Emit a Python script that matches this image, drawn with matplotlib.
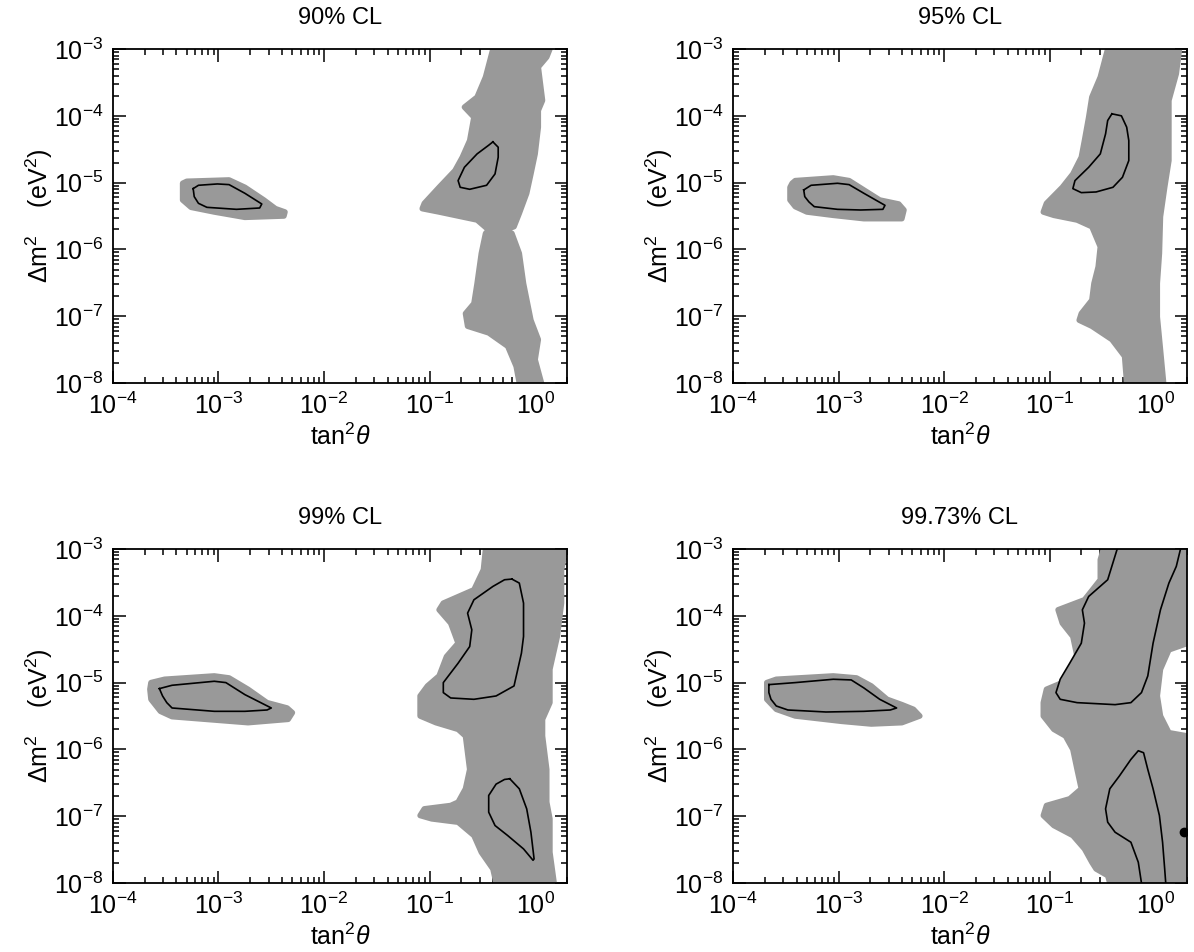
import numpy as np
import matplotlib.pyplot as plt
from matplotlib.ticker import LogLocator, NullFormatter

plt.rcParams['font.family'] = ['Liberation Sans', 'DejaVu Sans']
plt.rcParams['mathtext.fontset'] = 'custom'
plt.rcParams['mathtext.rm'] = 'Liberation Sans'
plt.rcParams['mathtext.it'] = 'Liberation Sans:italic'

# all shapes are (log10 tan^2 theta, log10 dm^2) outlines
titles = ['90% CL', '95% CL', '99% CL', '99.73% CL']

gray_90 = [
    [(-3.34, -5.01), (-3.30, -4.98), (-2.90, -4.96), (-2.75, -5.07), (-2.57, -5.26),
     (-2.46, -5.39), (-2.37, -5.44), (-2.38, -5.50), (-2.75, -5.52), (-3.04, -5.44),
     (-3.26, -5.37), (-3.34, -5.26), (-3.34, -5.07)],
    [(-0.40, -3.00), (-0.47, -3.42), (-0.55, -3.72), (-0.67, -3.87), (-0.58, -4.02),
     (-0.62, -4.37), (-0.69, -4.62), (-0.76, -4.82), (-0.91, -5.07), (-1.05, -5.31),
     (-1.07, -5.39), (-0.91, -5.44), (-0.55, -5.56), (-0.44, -5.71), (-0.47, -5.76),
     (-0.51, -6.06), (-0.55, -6.51), (-0.58, -6.81), (-0.66, -6.96), (-0.64, -7.15),
     (-0.44, -7.25), (-0.26, -7.45), (-0.18, -7.75), (-0.15, -8.00), (0.06, -8.00),
     (0.00, -7.65), (0.03, -7.35), (-0.04, -7.06), (-0.11, -6.51), (-0.15, -6.06),
     (-0.22, -5.76), (-0.29, -5.71), (-0.20, -5.66), (-0.15, -5.46), (-0.08, -5.16),
     (-0.04, -4.87), (0.00, -4.57), (0.03, -4.17), (0.03, -3.92), (0.07, -3.77),
     (0.03, -3.27), (0.11, -3.12), (0.14, -3.00)],
]
cont_90 = [
    [(-3.24, -5.09), (-3.19, -5.04), (-3.01, -5.02), (-2.90, -5.03), (-2.75, -5.16),
     (-2.59, -5.32), (-2.61, -5.38), (-2.83, -5.40), (-3.11, -5.37), (-3.19, -5.31),
     (-3.23, -5.21), (-3.24, -5.09)],
    [(-0.40, -4.39), (-0.35, -4.47), (-0.35, -4.62), (-0.38, -4.87), (-0.46, -5.04),
     (-0.62, -5.10), (-0.71, -5.07), (-0.73, -4.97), (-0.67, -4.77), (-0.55, -4.57),
     (-0.44, -4.44), (-0.40, -4.39)],
]

gray_95 = [
    [(-3.44, -5.01), (-3.41, -4.97), (-3.05, -4.93), (-2.90, -4.97), (-2.76, -5.11),
     (-2.61, -5.26), (-2.43, -5.32), (-2.38, -5.41), (-2.40, -5.54), (-2.76, -5.54),
     (-3.05, -5.49), (-3.30, -5.44), (-3.41, -5.36), (-3.46, -5.26), (-3.46, -5.07)],
    [(-0.45, -3.00), (-0.52, -3.42), (-0.60, -3.72), (-0.63, -4.02), (-0.67, -4.37),
     (-0.70, -4.62), (-0.78, -4.87), (-0.88, -5.07), (-1.03, -5.31), (-1.06, -5.44),
     (-0.96, -5.49), (-0.74, -5.56), (-0.60, -5.66), (-0.52, -5.96), (-0.54, -6.26),
     (-0.58, -6.51), (-0.60, -6.76), (-0.70, -6.96), (-0.72, -7.06), (-0.60, -7.15),
     (-0.41, -7.35), (-0.29, -7.60), (-0.27, -8.00), (0.08, -8.00), (0.05, -7.50),
     (0.02, -7.01), (0.02, -6.51), (0.04, -6.06), (0.05, -5.51), (0.09, -5.07),
     (0.13, -4.67), (0.13, -4.27), (0.13, -3.77), (0.20, -3.37), (0.23, -3.00)],
]
cont_95 = [
    [(-3.33, -5.11), (-3.26, -5.04), (-3.01, -5.01), (-2.90, -5.03), (-2.76, -5.16),
     (-2.56, -5.34), (-2.58, -5.40), (-2.79, -5.41), (-3.01, -5.40), (-3.23, -5.36),
     (-3.28, -5.29), (-3.32, -5.21), (-3.33, -5.11)],
    [(-0.41, -3.97), (-0.32, -4.00), (-0.27, -4.17), (-0.25, -4.37), (-0.25, -4.67),
     (-0.31, -4.92), (-0.40, -5.07), (-0.56, -5.14), (-0.70, -5.15), (-0.78, -5.09),
     (-0.76, -4.97), (-0.63, -4.77), (-0.52, -4.57), (-0.47, -4.27), (-0.45, -4.07),
     (-0.41, -3.97)],
]

gray_99 = [
    [(-3.64, -5.00), (-3.51, -4.95), (-3.04, -4.90), (-2.90, -4.93), (-2.72, -5.10),
     (-2.54, -5.30), (-2.35, -5.38), (-2.30, -5.45), (-2.34, -5.55), (-2.72, -5.60),
     (-3.04, -5.56), (-3.44, -5.51), (-3.55, -5.43), (-3.64, -5.25), (-3.65, -5.10)],
    [(-0.47, -3.00), (-0.49, -3.31), (-0.58, -3.61), (-0.87, -3.81), (-0.91, -3.91),
     (-0.80, -4.11), (-0.73, -4.41), (-0.84, -4.61), (-0.91, -4.90), (-1.02, -5.05),
     (-1.09, -5.20), (-1.09, -5.50), (-0.94, -5.60), (-0.73, -5.70), (-0.66, -5.80),
     (-0.62, -6.30), (-0.66, -6.59), (-0.73, -6.79), (-0.80, -6.84), (-1.05, -6.89),
     (-1.09, -6.99), (-0.98, -7.04), (-0.73, -7.09), (-0.58, -7.29), (-0.51, -7.54),
     (-0.40, -7.79), (-0.37, -8.00), (0.18, -8.00), (0.14, -7.54), (0.14, -7.04),
     (0.11, -6.79), (0.11, -6.30), (0.07, -5.80), (0.07, -5.55), (0.14, -5.30),
     (0.14, -4.80), (0.21, -4.31), (0.25, -3.81), (0.25, -3.31), (0.29, -3.00)],
]
cont_99 = [
    [(-3.56, -5.09), (-3.44, -5.04), (-3.04, -4.98), (-2.93, -5.00), (-2.75, -5.18),
     (-2.50, -5.38), (-2.54, -5.41), (-2.75, -5.43), (-3.04, -5.43), (-3.44, -5.38),
     (-3.49, -5.30), (-3.53, -5.20), (-3.56, -5.09)],
    [(-0.22, -3.45), (-0.15, -3.51), (-0.11, -3.81), (-0.11, -4.31), (-0.13, -4.56),
     (-0.20, -5.05), (-0.37, -5.20), (-0.58, -5.25), (-0.80, -5.23), (-0.87, -5.15),
     (-0.87, -5.00), (-0.73, -4.71), (-0.62, -4.46), (-0.60, -4.21), (-0.64, -3.96),
     (-0.58, -3.76), (-0.40, -3.56), (-0.29, -3.46), (-0.22, -3.45)],
    [(-0.24, -6.44), (-0.15, -6.59), (-0.08, -6.89), (-0.04, -7.24), (-0.01, -7.64),
     (-0.02, -7.66), (-0.11, -7.49), (-0.26, -7.29), (-0.38, -7.14), (-0.44, -6.94),
     (-0.44, -6.69), (-0.37, -6.52), (-0.29, -6.45), (-0.24, -6.44)],
]

gray_9973 = [
    [(-3.68, -5.00), (-3.59, -4.95), (-3.05, -4.90), (-2.83, -4.93), (-2.69, -5.05),
     (-2.54, -5.25), (-2.40, -5.33), (-2.29, -5.40), (-2.23, -5.50), (-2.40, -5.60),
     (-2.69, -5.62), (-2.97, -5.58), (-3.41, -5.50), (-3.59, -5.40), (-3.68, -5.25),
     (-3.68, -5.10)],
    [(-0.49, -3.00), (-0.52, -3.16), (-0.52, -3.46), (-0.67, -3.76), (-0.92, -3.91),
     (-0.88, -4.11), (-0.78, -4.31), (-0.74, -4.61), (-0.81, -4.80), (-0.88, -5.00),
     (-1.03, -5.10), (-1.06, -5.30), (-1.06, -5.50), (-0.96, -5.70), (-0.85, -5.80),
     (-0.78, -6.00), (-0.74, -6.30), (-0.70, -6.59), (-0.81, -6.74), (-1.03, -6.84),
     (-1.06, -6.99), (-0.96, -7.14), (-0.78, -7.29), (-0.67, -7.49), (-0.60, -7.69),
     (-0.56, -7.79), (-0.45, -7.89), (-0.43, -8.00), (0.31, -8.00), (0.31, -5.80),
     (0.13, -5.75), (0.05, -5.50), (0.02, -5.20), (0.05, -4.80), (0.13, -4.51),
     (0.31, -4.41), (0.31, -3.00)],
]
cont_9973 = [
    [(-3.66, -5.03), (-3.41, -5.00), (-3.05, -4.95), (-2.88, -4.96), (-2.76, -5.08),
     (-2.61, -5.25), (-2.45, -5.38), (-2.51, -5.41), (-2.76, -5.43), (-3.12, -5.44),
     (-3.48, -5.41), (-3.59, -5.35), (-3.64, -5.25), (-3.66, -5.15), (-3.66, -5.03)],
    [(-0.36, -3.00), (-0.45, -3.46), (-0.63, -3.71), (-0.69, -3.91), (-0.67, -4.11),
     (-0.70, -4.41), (-0.81, -4.71), (-0.90, -4.95), (-0.94, -5.15), (-0.90, -5.25),
     (-0.74, -5.30), (-0.38, -5.33), (-0.23, -5.30), (-0.13, -5.15), (-0.07, -4.90),
     (-0.02, -4.41), (0.05, -3.91), (0.13, -3.51), (0.20, -3.26), (0.24, -3.00)],
    [(-0.13, -8.00), (-0.16, -7.69), (-0.23, -7.39), (-0.38, -7.24), (-0.45, -7.09),
     (-0.47, -6.89), (-0.43, -6.59), (-0.34, -6.40), (-0.23, -6.15), (-0.16, -6.02),
     (-0.11, -6.05), (-0.07, -6.30), (-0.02, -6.59), (0.04, -6.99), (0.07, -7.39),
     (0.09, -7.79), (0.10, -8.00)],
]
best_fit_9973 = (0.27, -7.24)

grays = [gray_90, gray_95, gray_99, gray_9973]
conts = [cont_90, cont_95, cont_99, cont_9973]

gray = '#999999'
fig = plt.figure(figsize=(11.94, 9.52), dpi=100)
positions = [(0.0946, 0.5977), (0.6139, 0.5977), (0.0946, 0.0725), (0.6139, 0.0725)]

for i, (x0, y0) in enumerate(positions):
    ax = fig.add_axes([x0, y0, 0.3802, 0.3508])
    ax.set_xscale('log')
    ax.set_yscale('log')
    ax.set_xlim(1e-4, 2.0)
    ax.set_ylim(1e-8, 1e-3)

    for poly in grays[i]:
        p = np.power(10.0, np.array(poly))
        ax.fill(p[:, 0], p[:, 1], color=gray, ec=gray, lw=4, joinstyle='round', zorder=2)
    for line in conts[i]:
        p = np.power(10.0, np.array(line))
        ax.plot(p[:, 0], p[:, 1], color='black', lw=1.2, zorder=3,
                solid_joinstyle='round')
    if i == 3:
        ax.plot(10 ** best_fit_9973[0], 10 ** best_fit_9973[1], 'o', color='black', ms=6, zorder=4)

    ax.xaxis.set_major_locator(LogLocator(base=10, numticks=20))
    ax.yaxis.set_major_locator(LogLocator(base=10, numticks=20))
    ax.xaxis.set_minor_locator(LogLocator(base=10, subs=np.arange(2, 10), numticks=100))
    ax.yaxis.set_minor_locator(LogLocator(base=10, subs=np.arange(2, 10), numticks=100))
    ax.xaxis.set_minor_formatter(NullFormatter())
    ax.yaxis.set_minor_formatter(NullFormatter())
    ax.tick_params(which='both', direction='in', top=True, right=True, width=1.1,
                   labelsize=18, pad=7)
    ax.tick_params(which='major', length=9)
    ax.tick_params(which='minor', length=4.5)
    for s in ax.spines.values():
        s.set_linewidth(1.3)

    ax.set_title(titles[i], fontsize=17, pad=18)
    ax.set_xlabel(r'tan$^2\theta$', fontsize=18, labelpad=3)
    ax.set_ylabel(r'$\Delta$m$^2$    (eV$^2$)', fontsize=18, labelpad=-1)

fig.savefig('out.png', dpi=100)
